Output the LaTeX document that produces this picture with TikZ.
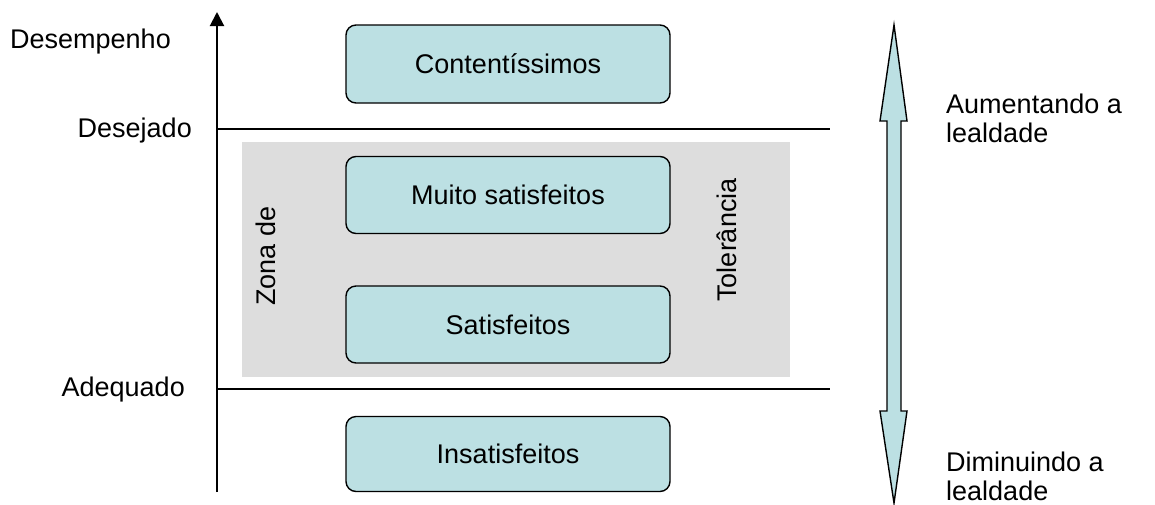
\documentclass[tikz,border=0pt]{standalone}
\usepackage{fontspec}
\setmainfont{Liberation Sans}
\usetikzlibrary{arrows.meta}
\definecolor{boxblue}{HTML}{BCE0E3}
\definecolor{zonegray}{HTML}{DDDDDD}
\begin{document}
\begin{tikzpicture}[x=1pt,y=-1pt,
  lbl/.style={font=\fontsize{27}{29}\selectfont, inner sep=0pt},
  catbox/.style={draw=black, line width=1.4pt, fill=boxblue, rounded corners=10pt, minimum width=324pt, inner sep=0pt, font=\fontsize{27}{29}\selectfont},
  level/.style={draw=black, line width=2pt}]
\useasboundingbox (0,0) rectangle (1155,504);
% gray zone
\fill[zonegray] (242,142) rectangle (790,377);
% axis
\coordinate (axb) at (217,492);
\coordinate (axt) at (217,12);
\draw[line width=2pt, -{Triangle[width=14pt,length=14pt]}] (axb) -- (axt);
% level lines
\coordinate (d1) at (217,129);
\coordinate (d2) at (830,129);
\coordinate (a1) at (217,389);
\coordinate (a2) at (830,389);
\draw[level] (d1) -- (d2);
\draw[level] (a1) -- (a2);
% boxes
\node[catbox, minimum height=78pt] (c) at (508,64) {Contentíssimos};
\node[catbox, minimum height=77pt] (m) at (508,195) {Muito satisfeitos};
\node[catbox, minimum height=77pt] (s) at (508,324.5) {Satisfeitos};
\node[catbox, minimum height=75pt] (i) at (508,454) {Insatisfeitos};
% zone labels
\node[lbl, rotate=90] (zd) at (266,256) {Zona de};
\node[lbl, rotate=90] (tl) at (727,240) {Tolerância};
% left labels
\node[lbl, anchor=west] (desemp) at (10,42) {Desempenho};
\node[lbl, anchor=east] (desej) at (192,131) {Desejado};
\node[lbl, anchor=east] (adeq) at (185,390) {Adequado};
% double arrow
\draw[line width=1.4pt, fill=boxblue, line join=miter]
  (894,25) -- (907,121) -- (901,121) -- (901,411) -- (907,411) -- (894,503)
  -- (880,411) -- (887,411) -- (887,121) -- (880,121) -- cycle;
% right labels
\node[lbl, anchor=west, align=left] (up) at (946,118) {Aumentando a\\lealdade};
\node[lbl, anchor=west, align=left] (down) at (946,476) {Diminuindo a\\lealdade};
\end{tikzpicture}
\end{document}
